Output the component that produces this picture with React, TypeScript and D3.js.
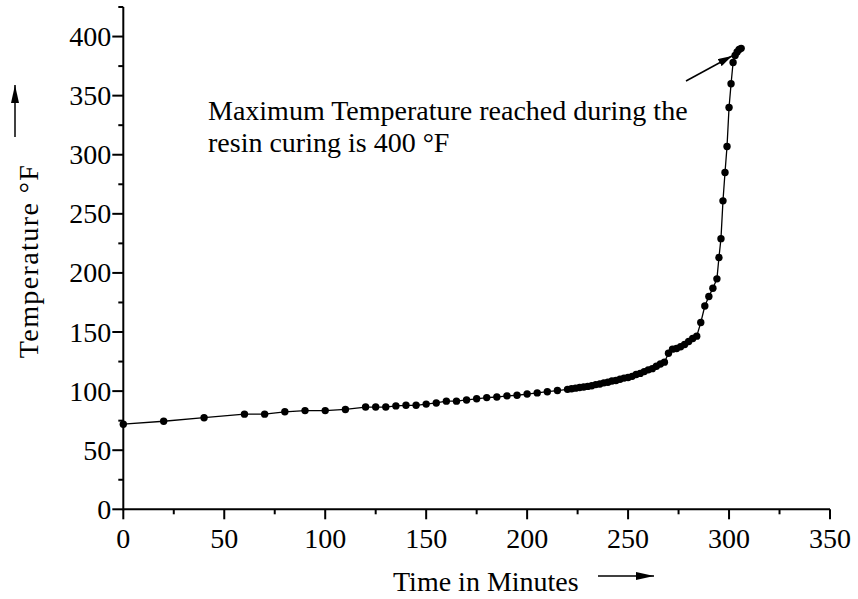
import React from "react";
import * as d3 from "d3";

const times: number[] = [
  0, 20, 40, 60, 70, 80, 90, 100, 110, 120, 125, 130, 135, 140, 145, 150, 155, 160, 165, 170, 175,
  180, 185, 190, 195, 200, 205, 210, 215,
  220, 222, 224, 226, 228, 230, 232, 234, 236, 238, 240, 242, 244, 246, 248, 250, 252, 254, 256, 258, 260, 262, 264, 266, 268,
  270, 272, 274, 276, 278, 280, 282, 284, 286, 288, 290, 292, 294, 295, 296, 297, 298, 299, 300, 301, 302, 303, 304, 305, 306,
];
const temps: number[] = [
  72, 74.5, 77.5, 80.5, 80.5, 82.5, 83.5, 83.5, 84.5, 86.5, 86.5, 86.5, 87.5, 88, 88, 89, 90, 91.5, 91.5, 92.5, 93.5,
  94.5, 95, 96, 96.5, 97.5, 98.5, 99.5, 100.5,
  101.5, 102, 102.5, 103, 103.5, 104, 104.5, 105.5, 106, 107, 107.5, 108.5, 109, 110, 111, 111.5, 112.5, 114, 115, 116.5, 118, 119, 121, 123, 124.5,
  132, 135.5, 136, 137.5, 139.5, 142, 144.5, 146.5, 158, 172, 180, 187, 195, 213, 229, 261, 285, 307, 340, 360, 378, 384, 387, 389, 390,
];

const xTicks: number[] = [0, 50, 100, 150, 200, 250, 300, 350];
const yTicks: number[] = [0, 50, 100, 150, 200, 250, 300, 350, 400];
const xMinor: number[] = [25, 75, 125, 175, 225, 275, 325];
const yMinor: number[] = [25, 75, 125, 175, 225, 275, 325, 375, 425];

const xTitle = "Time in Minutes";
const yTitle = "Temperature °F";
const noteLines: string[] = ["Maximum Temperature reached during the", "resin curing is 400 °F"];

const W = 858;
const H = 599;
const FONT = "'Liberation Serif', 'Times New Roman', serif";
const FS = 28;

export default function App() {
  const x = d3.scaleLinear().domain([0, 350]).range([123.3, 830]);
  const y = d3.scaleLinear().domain([0, 425]).range([509.3, 7]);
  const pts = times.map((t, i) => [t, temps[i]] as [number, number]);
  const line = d3
    .line<[number, number]>()
    .x((d) => x(d[0]))
    .y((d) => y(d[1]));

  return (
    <svg
      width={W}
      height={H}
      style={{ position: "absolute", left: 0, top: 0, background: "#fff" }}
      fontFamily={FONT}
    >
      <defs>
        <marker id="ah" viewBox="0 0 18 8" refX="18" refY="4" markerWidth="18" markerHeight="8" orient="auto" markerUnits="userSpaceOnUse">
          <path d="M0,0 L18,4 L0,8 z" fill="#000" />
        </marker>
        <marker id="ah2" viewBox="0 0 14 8" refX="14" refY="4" markerWidth="14" markerHeight="8" orient="auto" markerUnits="userSpaceOnUse">
          <path d="M0,0 L14,4 L0,8 z" fill="#000" />
        </marker>
      </defs>
      <rect width={W} height={H} fill="#fff" />
      {/* axes */}
      <line x1={x(0)} x2={x(350)} y1={y(0)} y2={y(0)} stroke="#000" strokeWidth={2} />
      <line x1={x(0)} x2={x(0)} y1={y(0) + 1} y2={y(425)} stroke="#000" strokeWidth={2} />
      {xTicks.map((t) => (
        <g key={"xt" + t}>
          <line x1={x(t)} x2={x(t)} y1={y(0)} y2={y(0) + 10} stroke="#000" strokeWidth={2} />
          <text x={x(t)} y={y(0) + 39} textAnchor="middle" fontSize={FS}>
            {t}
          </text>
        </g>
      ))}
      {xMinor.map((t) => (
        <line key={"xm" + t} x1={x(t)} x2={x(t)} y1={y(0)} y2={y(0) + 5} stroke="#000" strokeWidth={2} />
      ))}
      {yTicks.map((v) => (
        <g key={"yt" + v}>
          <line x1={x(0) - 11} x2={x(0)} y1={y(v)} y2={y(v)} stroke="#000" strokeWidth={2} />
          <text x={x(0) - 12} y={y(v) + 9.5} textAnchor="end" fontSize={FS}>
            {v}
          </text>
        </g>
      ))}
      {yMinor.map((v) => (
        <line key={"ym" + v} x1={x(0) - 5} x2={x(0)} y1={y(v)} y2={y(v)} stroke="#000" strokeWidth={2} />
      ))}
      {/* data */}
      <path d={line(pts) || ""} fill="none" stroke="#000" strokeWidth={1.3} />
      {pts.map((d, i) => (
        <circle key={i} cx={x(d[0])} cy={y(d[1])} r={3.7} fill="#000" />
      ))}
      {/* annotation */}
      <text x={208} y={120} fontSize={FS}>
        {noteLines[0]}
      </text>
      <text x={208} y={152} fontSize={FS}>
        {noteLines[1]}
      </text>
      <line x1={686} y1={81} x2={732} y2={56} stroke="#000" strokeWidth={1.5} markerEnd="url(#ah2)" />
      {/* axis titles */}
      <text x={393} y={591} fontSize={FS}>
        {xTitle}
      </text>
      <line x1={598} y1={576} x2={654} y2={576} stroke="#000" strokeWidth={1.5} markerEnd="url(#ah)" />
      <text transform="translate(38,261) rotate(-90)" textAnchor="middle" fontSize={FS} letterSpacing={1.4}>
        {yTitle}
      </text>
      <line x1={15} y1={137} x2={15} y2={85} stroke="#000" strokeWidth={1.5} markerEnd="url(#ah)" />
    </svg>
  );
}
